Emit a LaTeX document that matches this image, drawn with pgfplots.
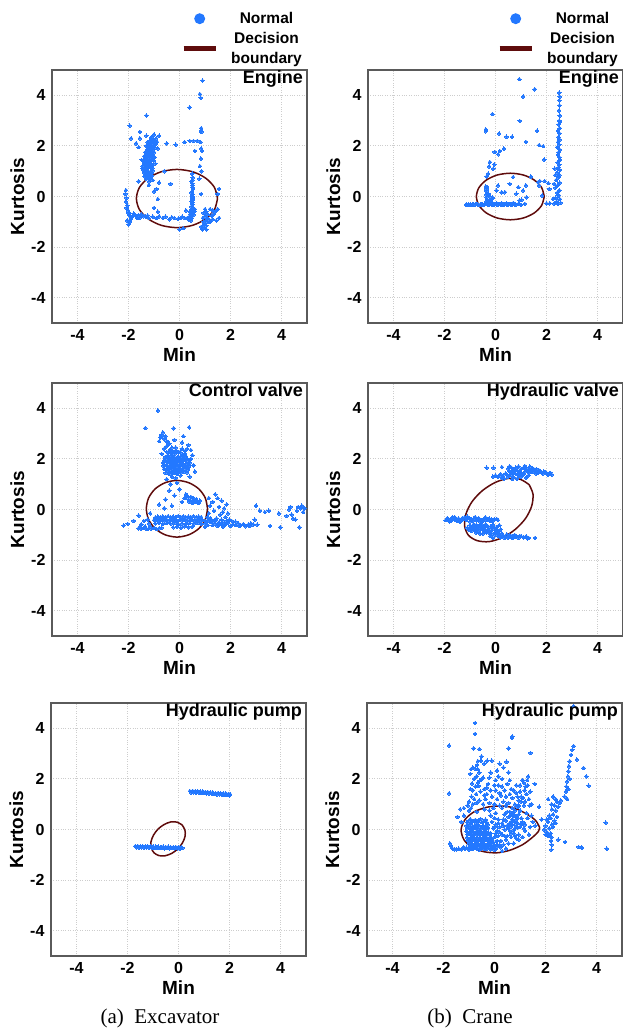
\documentclass[border=0pt]{standalone}
\usepackage{pgfplots}
\pgfplotsset{compat=1.18}
\usepackage{fontspec}
\setmainfont{Liberation Sans}
\newfontfamily\capfont{Liberation Serif}
\definecolor{ptblue}{RGB}{35,120,255}
\definecolor{bnd}{RGB}{95,12,12}
\definecolor{gridgray}{RGB}{205,205,205}
\definecolor{framegray}{RGB}{90,90,90}

\pgfplotsset{
  panel/.style={
    scale only axis, width=255pt, height=253pt,
    xmin=-5, xmax=5, ymin=-5, ymax=5,
    xtick={-4,-2,0,2,4}, ytick={-4,-2,0,2,4},
    xticklabels={-4,-2,0,2,4}, yticklabels={-4,-2,0,2,4},
    grid=major,
    major grid style={gridgray, dotted, line width=0.9pt},
    axis line style={framegray, line width=1.5pt},
    major tick length=0pt,
    ticklabel style={font=\bfseries\fontsize{16}{16}\selectfont},
    xticklabel style={yshift=-3pt},
    yticklabel style={xshift=-3pt},
    xlabel={Min}, ylabel={Kurtosis},
    label style={font=\bfseries\fontsize{19}{19}\selectfont},
    title style={at={(0.985,0.975)}, anchor=north east, inner sep=0pt,
      font=\bfseries\fontsize{18}{18}\selectfont},
  },
  pts/.style={only marks, mark=*, mark size=1.8pt, color=ptblue,
    mark options={line width=0pt}},
  bound/.style={bnd, line width=1.5pt, smooth, no markers},
  toplegend/.style={legend style={at={(1.0,1.004)}, anchor=south east,
    draw=none, fill=none, font=\bfseries\fontsize{15.5}{20}\selectfont,
    cells={align=center}, row sep=3pt,
    /tikz/every odd column/.append style={column sep=11pt}},
    legend cell align=center},
}

\begin{document}
\begin{tikzpicture}
\useasboundingbox (0pt,0pt) rectangle (622pt,-1034pt);

% (a) Excavator - Engine
\begin{axis}[panel, at={(52pt,-70pt)}, anchor=north west, title={Engine}, toplegend]
\addplot[pts, legend image code/.code={\path[draw=none,fill=none] (0pt,-1pt) rectangle (32pt,1pt); \fill[ptblue,draw=none] (16pt,0pt) circle (5.5pt);}] coordinates {
(-1.30,0.70) (-1.25,0.75) (-1.18,0.72) (-1.35,0.85) (-1.22,0.88) (-1.10,0.82) (-1.40,0.95) (-1.28,1.00) (-1.15,0.98) (-1.05,1.02)
(-1.38,1.10) (-1.25,1.12) (-1.12,1.15) (-1.45,1.20) (-1.32,1.25) (-1.20,1.28) (-1.08,1.22) (-1.40,1.35) (-1.28,1.40) (-1.15,1.38)
(-1.02,1.42) (-1.35,1.50) (-1.22,1.55) (-1.10,1.52) (-1.30,1.65) (-1.18,1.68) (-1.05,1.62) (-1.25,1.78) (-1.12,1.80) (-1.00,1.75)
(-1.22,1.90) (-1.10,1.95) (-0.98,1.92) (-1.18,2.05) (-1.05,2.10) (-1.15,2.20) (-1.02,2.25) (-0.95,2.05) (-1.25,2.15) (-1.10,2.35)
(-0.92,2.30) (-1.20,0.60) (-1.05,0.65) (-1.42,1.05) (-0.95,1.30) (-1.48,1.45) (-0.98,1.55) (-1.30,2.00) (-0.88,2.15) (-1.35,1.75)
(-1.38,0.80) (-1.26,0.82) (-1.14,0.80) (-1.32,0.92) (-1.20,0.95) (-1.08,0.93) (-1.44,1.12) (-1.30,1.15) (-1.18,1.18) (-1.06,1.12)
(-1.36,1.30) (-1.24,1.33) (-1.12,1.30) (-1.42,1.42) (-1.30,1.45) (-1.18,1.46) (-1.06,1.48) (-1.38,1.60) (-1.26,1.60) (-1.14,1.60)
(-1.02,1.58) (-1.32,1.72) (-1.20,1.73) (-1.08,1.70) (-1.28,1.85) (-1.16,1.85) (-1.04,1.85) (-1.22,1.98) (-1.10,2.00) (-1.00,2.00)
(-1.20,2.12) (-1.08,2.15) (-1.12,2.28) (-0.98,2.18)
(-1.55,2.30) (-1.30,2.40) (-1.00,2.45) (-0.80,2.40) (-1.30,3.20) (-1.55,2.55) (-1.95,2.80) (-1.90,2.30) (-1.70,2.10) (-1.60,1.95)
(-0.85,1.90) (-0.50,2.10) (-0.60,1.00) (-0.90,0.30) (-1.00,0.20) (-0.80,0.55) (-0.35,0.50) (-0.85,-0.10) (-1.20,0.45) (-1.60,0.60)
(-0.15,2.05) (0.20,2.15)
(0.50,0.90) (0.52,0.75) (0.48,0.60) (0.50,0.45) (0.53,0.30) (0.47,0.15) (0.50,0.00) (0.52,-0.10) (0.48,-0.20) (0.50,-0.30)
(0.46,-0.40) (0.53,-0.45) (0.45,-0.55) (0.50,-0.62) (0.42,-0.70) (0.55,-0.72) (0.38,-0.80) (0.48,-0.85) (0.35,-0.90) (0.58,-0.60)
(0.40,-0.60) (0.30,-0.85) (0.44,-0.95) (0.51,0.65) (0.49,0.20) (0.51,-0.05) (0.25,-0.55) (0.20,-0.85) (0.60,-0.50)
(0.50,0.52) (0.50,0.37) (0.50,0.07) (0.50,-0.15) (0.50,-0.25) (0.50,-0.50) (0.45,-0.75)
(1.00,-0.50) (1.05,-0.60) (0.95,-0.65) (1.10,-0.70) (1.00,-0.78) (0.92,-0.85) (1.08,-0.85) (1.02,-0.95) (0.95,-1.00) (1.10,-1.00)
(1.00,-1.08) (0.92,-1.15) (1.05,-1.15) (0.98,-1.25) (0.90,-1.30) (1.05,-1.30) (0.85,-1.20) (1.15,-0.90)
(1.20,-0.50) (1.30,-0.55) (1.40,-0.60) (1.50,-0.50) (1.55,-0.85) (1.45,-0.95) (1.30,-0.90) (1.55,0.30) (1.50,0.10) (1.25,-0.75)
(1.35,-0.70) (1.20,-1.00)
(0.90,4.58) (0.80,4.05) (0.83,3.90) (0.40,3.52) (0.85,2.70) (0.84,2.60) (0.86,2.55) (0.70,2.20) (0.55,2.20) (0.82,2.15)
(0.85,1.90) (0.88,1.80) (0.84,1.50) (0.80,1.20) (0.86,1.00) (0.78,0.70) (0.85,0.10) (0.60,1.80) (0.40,2.20)
(-1.95,-0.75) (-1.85,-0.80) (-1.78,-0.72) (-1.70,-0.78) (-1.62,-0.75) (-1.55,-0.82) (-1.48,-0.73) (-1.40,-0.78) (-1.32,-0.80) (-1.25,-0.75)
(-1.80,-0.68) (-1.65,-0.85) (-1.90,-0.88) (-1.50,-0.70) (-1.20,-0.85)
(-1.05,-0.80) (-0.90,-0.85) (-0.80,-0.78) (-0.65,-0.85) (-0.40,-0.90) (-0.30,-0.82) (-0.20,-0.85) (-0.05,-0.88) (0.05,-0.85) (0.10,-0.80)
(-0.55,-0.80) (0.00,-1.30) (0.15,-1.25)
(-2.10,0.25) (-2.12,0.10) (-2.08,-0.05) (-2.10,-0.20) (-2.05,-0.35) (-2.08,-0.45) (-2.02,-0.55) (-2.00,-0.65) (-2.05,-0.95) (-2.00,-1.10)
(-1.95,-1.00) (-1.00,-0.45) (-0.85,-0.60)
};
\addlegendentry{Normal}
\addplot[bound, legend image code/.code={\draw[bnd, line width=5pt] (0pt,0pt) -- (32pt,0pt);}] coordinates {
(1.49,-0.08) (1.37,0.36) (1.02,0.73) (0.51,0.98) (-0.10,1.07) (-0.71,0.98) (-1.22,0.73) (-1.57,0.36)
(-1.69,-0.08) (-1.57,-0.52) (-1.22,-0.89) (-0.71,-1.14) (-0.10,-1.23) (0.51,-1.14) (1.02,-0.89) (1.37,-0.52) (1.49,-0.08)
};
\addlegendentry{Decision\\boundary}
\end{axis}

% (b) Crane - Engine
\begin{axis}[panel, at={(368pt,-70pt)}, anchor=north west, title={Engine}, toplegend]
\addplot[pts, legend image code/.code={\path[draw=none,fill=none] (0pt,-1pt) rectangle (32pt,1pt); \fill[ptblue,draw=none] (16pt,0pt) circle (5.5pt);}] coordinates {
(-1.15,-0.32) (-1.10,-0.33) (-1.05,-0.31) (-1.00,-0.32) (-0.95,-0.33) (-0.90,-0.31) (-0.85,-0.32) (-0.80,-0.31) (-0.75,-0.30) (-0.70,-0.32)
(-0.65,-0.33) (-0.60,-0.32) (-0.55,-0.31) (-0.50,-0.31) (-0.45,-0.32) (-0.40,-0.30) (-0.38,-0.29) (-0.30,-0.31) (-0.25,-0.32) (-0.20,-0.30)
(-0.15,-0.31) (-0.10,-0.32) (-0.05,-0.31) (0.00,-0.30) (0.05,-0.32) (0.10,-0.31) (0.15,-0.30) (0.20,-0.32) (0.25,-0.31) (0.30,-0.31)
(0.35,-0.32) (0.40,-0.30) (0.45,-0.31) (0.50,-0.32) (0.55,-0.30) (0.60,-0.31) (0.65,-0.32) (0.70,-0.30) (0.75,-0.31) (0.80,-0.32)
(-0.25,-0.25) (-0.15,-0.22) (0.05,-0.26) (0.25,-0.27) (0.45,-0.28) (0.90,-0.28) (1.00,-0.33) (0.95,-0.15) (0.70,-0.25)
(-0.36,-0.25) (-0.35,-0.18) (-0.34,-0.10) (-0.36,-0.02) (-0.35,0.06) (-0.34,0.14) (-0.36,0.22) (-0.35,0.30) (-0.33,0.38) (-0.38,0.40)
(-0.30,-0.20) (-0.25,-0.15) (-0.20,-0.18) (-0.15,-0.10) (-0.10,-0.05) (-0.28,0.10) (-0.22,0.00)
(0.93,4.64) (1.54,4.24) (1.08,3.95) (-0.12,3.26) (0.95,2.99) (-0.38,2.65) (-0.38,2.58) (0.14,2.49) (0.43,2.36) (0.65,2.36)
(1.19,2.16) (1.63,2.60) (1.71,2.03) (1.87,1.99) (0.33,1.89) (0.17,1.80) (0.10,1.67) (-0.03,1.76) (-0.22,1.36) (-0.25,1.19)
(-0.09,1.10) (-0.05,1.27) (1.91,1.46) (-0.35,0.79) (-0.29,0.90) (0.10,0.44) (0.04,0.24) (0.24,0.17) (0.37,0.17) (0.69,0.77)
(0.89,0.37) (1.08,0.24) (1.39,0.79) (1.67,0.57) (1.74,0.61) (1.19,0.44) (1.22,-0.03) (1.15,-0.29) (0.56,0.50) (0.82,0.11)
(1.02,-0.13) (2.07,0.53) (2.11,0.30) (2.00,-0.27) (2.13,-0.27) (1.93,0.61) (1.70,0.44) (1.83,0.04)
(2.50,4.10) (2.52,3.95) (2.50,3.80) (2.51,3.60) (2.49,3.40) (2.52,3.20) (2.50,3.00) (2.48,2.85) (2.52,2.70) (2.45,2.60)
(2.50,2.50) (2.47,2.35) (2.52,2.25) (2.45,2.15) (2.50,2.05) (2.42,1.95) (2.52,1.85) (2.48,1.75) (2.45,1.65) (2.50,1.55)
(2.53,1.45) (2.44,1.35) (2.50,1.25) (2.47,1.15) (2.52,1.05) (2.42,0.95) (2.50,0.85) (2.46,0.75) (2.38,0.65) (2.52,0.55)
(2.44,0.45) (2.35,0.35) (2.50,0.25) (2.42,0.15) (2.48,0.05) (2.36,-0.05) (2.52,-0.10) (2.40,-0.20) (2.30,-0.28) (2.45,-0.30)
(2.55,-0.25) (2.25,-0.10) (2.32,1.10) (2.35,0.85) (2.30,0.50) (2.53,2.95)
};
\addlegendentry{Normal}
\addplot[bound, legend image code/.code={\draw[bnd, line width=5pt] (0pt,0pt) -- (32pt,0pt);}] coordinates {
(1.91,0.00) (1.81,0.35) (1.52,0.65) (1.09,0.85) (0.58,0.92) (0.07,0.85) (-0.36,0.65) (-0.65,0.35)
(-0.75,0.00) (-0.65,-0.35) (-0.36,-0.65) (0.07,-0.85) (0.58,-0.92) (1.09,-0.85) (1.52,-0.65) (1.81,-0.35) (1.91,0.00)
};
\addlegendentry{Decision\\boundary}
\end{axis}

% (a) Excavator - Control valve
\begin{axis}[panel, at={(52pt,-383pt)}, anchor=north west, title={Control valve}]
\addplot[pts] coordinates {
(-0.60,1.60) (-0.50,1.75) (-0.45,1.55) (-0.40,1.90) (-0.35,1.65) (-0.30,2.05) (-0.25,1.80) (-0.20,1.55) (-0.15,1.95) (-0.10,1.70)
(-0.05,2.10) (0.00,1.85) (0.05,1.60) (0.10,2.00) (0.15,1.75) (-0.55,2.00) (-0.45,2.15) (-0.35,2.25) (-0.20,2.20) (-0.10,2.30)
(0.05,2.25) (0.20,1.95) (0.25,1.70) (-0.40,1.40) (-0.25,1.45) (-0.10,1.40) (0.05,1.35) (-0.30,1.30) (-0.15,1.25) (0.00,1.50)
(0.20,2.20) (0.30,2.40) (0.40,1.85) (0.35,1.65) (0.45,2.00) (-0.65,1.85) (-0.70,2.20) (-0.60,2.40) (-0.50,2.50) (-0.40,2.60)
(-0.30,2.45) (-0.15,2.45) (-0.25,2.00) (-0.35,1.85) (-0.15,1.85) (-0.05,1.95) (0.10,1.80) (0.25,2.10) (-0.45,1.95) (-0.20,1.70)
(-0.55,1.45) (-0.43,1.47) (-0.31,1.50) (-0.19,1.44) (-0.07,1.48) (0.05,1.46) (0.17,1.50) (0.29,1.47)
(-0.62,1.72) (-0.50,1.62) (-0.38,1.58) (-0.26,1.62) (-0.14,1.60) (-0.02,1.62) (0.10,1.60) (0.22,1.62) (0.34,1.58)
(-0.58,1.76) (-0.46,1.72) (-0.34,1.76) (-0.22,1.70) (-0.10,1.76) (0.02,1.72) (0.14,1.78) (0.26,1.82) (0.38,1.74)
(-0.60,1.90) (-0.48,1.86) (-0.36,1.94) (-0.24,1.90) (-0.12,1.86) (0.00,1.98) (0.12,1.90) (0.24,1.96) (0.36,1.92)
(-0.56,2.08) (-0.44,2.04) (-0.32,2.12) (-0.20,2.06) (-0.08,2.02) (0.04,2.08) (0.16,2.12) (0.28,2.02)
(-0.50,2.28) (-0.38,2.36) (-0.26,2.30) (-0.14,2.34) (-0.02,2.28) (0.10,2.40) (0.22,2.32)
(-0.75,2.85) (-0.70,2.95) (-0.60,2.80) (-0.50,2.70) (-0.65,3.05) (-0.55,2.90) (-0.80,2.70) (-0.20,2.75) (0.10,2.65) (0.35,2.55)
(0.45,2.35) (0.55,1.75) (0.50,2.15) (0.60,1.50) (0.40,1.30) (-0.50,1.20) (-0.35,1.00) (-0.10,1.05)
(-0.85,3.91) (-1.34,3.22) (-0.23,3.21) (0.38,3.25) (-0.45,2.65) (0.15,2.90)
(-0.40,0.75) (-0.20,0.55) (-0.55,0.40) (0.00,0.80) (-0.60,0.05) (-0.80,0.20) (-0.30,0.15) (0.10,0.30)
(0.20,0.45) (0.30,0.55) (0.35,0.40) (0.45,0.50) (0.50,0.35) (0.55,0.45) (0.60,0.30) (0.65,0.40) (0.70,0.35) (0.75,0.25)
(0.40,0.30) (0.50,0.25) (0.25,0.60) (0.80,0.35)
(-0.95,-0.32) (-0.85,-0.28) (-0.75,-0.31) (-0.65,-0.27) (-0.55,-0.30) (-0.45,-0.26) (-0.35,-0.31) (-0.25,-0.28) (-0.15,-0.30) (-0.05,-0.25)
(0.05,-0.29) (0.15,-0.27) (0.25,-0.31) (0.35,-0.28) (0.45,-0.30) (0.55,-0.26) (0.65,-0.31) (0.75,-0.28) (0.85,-0.30)
(-1.00,-0.42) (-0.90,-0.40) (-0.80,-0.44) (-0.70,-0.41) (-0.60,-0.43) (-0.50,-0.40) (-0.40,-0.44) (-0.30,-0.42) (-0.20,-0.40) (-0.10,-0.45)
(0.00,-0.41) (0.10,-0.43) (0.20,-0.40) (0.30,-0.44) (0.40,-0.42) (0.50,-0.40) (0.60,-0.43) (0.70,-0.41) (0.80,-0.44) (0.90,-0.42) (1.00,-0.45)
(-0.95,-0.55) (-0.80,-0.53) (-0.65,-0.57) (-0.50,-0.54) (-0.35,-0.56) (-0.20,-0.53) (-0.05,-0.58) (0.10,-0.55) (0.25,-0.57) (0.40,-0.54)
(0.55,-0.56) (0.70,-0.53) (0.85,-0.57) (1.00,-0.55)
(-0.10,-0.68) (0.05,-0.72) (0.20,-0.66) (0.35,-0.70) (-0.25,-0.70) (0.50,-0.68)
(-1.60,-0.74) (-1.50,-0.76) (-1.40,-0.73) (-1.30,-0.77) (-1.20,-0.74) (-1.10,-0.76) (-1.00,-0.73) (-0.90,-0.77) (-0.80,-0.74) (-0.70,-0.72)
(-1.55,-0.68) (-1.35,-0.67) (-1.15,-0.66) (-1.40,-0.45) (-1.25,-0.40) (-1.20,-0.55) (-1.50,-0.58)
(-2.19,-0.63) (-2.03,-0.57) (-1.60,-0.24) (-1.80,-0.45) (-1.15,-0.15)
(1.10,-0.30) (1.15,-0.15) (1.20,0.15) (1.30,0.30) (1.35,-0.05) (1.40,0.60) (1.50,0.45) (1.55,0.10) (1.60,-0.20) (1.65,0.35)
(1.70,-0.10) (1.75,0.05) (1.80,-0.30) (1.85,0.20) (1.90,-0.15) (1.95,-0.40) (1.20,-0.50) (1.30,-0.62) (1.40,-0.55) (1.50,-0.65)
(1.60,-0.58) (1.70,-0.68) (1.80,-0.60) (1.90,-0.52) (2.00,-0.65) (2.10,-0.58) (2.20,-0.62) (2.30,-0.55) (2.40,-0.63) (2.50,-0.58)
(2.60,-0.66) (2.70,-0.60) (2.80,-0.55) (1.25,-0.40) (1.45,-0.35) (1.65,-0.40) (1.85,-0.45) (2.05,-0.45) (2.20,-0.48) (1.10,-0.62)
(1.00,-0.68) (1.15,0.45)
(1.10,-0.45) (1.20,-0.35) (1.30,-0.48) (1.40,-0.42) (1.55,-0.50) (1.70,-0.52) (1.75,-0.62) (2.35,-0.65) (2.55,-0.62) (2.75,-0.65) (2.90,-0.60)
(3.00,0.15) (3.15,-0.05) (3.35,-0.10) (3.50,-0.05) (3.55,-0.65) (3.95,-0.70) (3.90,-0.15) (4.20,-0.25) (4.30,0.00) (4.40,-0.20)
(4.45,-0.35) (4.55,-0.40) (4.60,-0.05) (4.65,0.10) (4.75,0.05) (4.80,0.15) (4.85,-0.10) (4.90,0.05) (4.70,-0.70) (3.05,-0.60)
(2.95,-0.40) (4.35,0.10)
};
\addplot[bound] coordinates {
(1.10,0.03) (1.01,0.46) (0.75,0.82) (0.36,1.06) (-0.10,1.15) (-0.56,1.06) (-0.95,0.82) (-1.21,0.46)
(-1.30,0.03) (-1.21,-0.40) (-0.95,-0.76) (-0.56,-1.00) (-0.10,-1.09) (0.36,-1.00) (0.75,-0.76) (1.01,-0.40) (1.10,0.03)
};
\end{axis}

% (b) Crane - Hydraulic valve
\begin{axis}[panel, at={(368pt,-383pt)}, anchor=north west, title={Hydraulic valve}]
\addplot[pts] coordinates {
(0.50,1.62) (0.60,1.68) (0.70,1.58) (0.80,1.65) (0.90,1.70) (1.00,1.60) (1.10,1.66) (1.20,1.58) (1.30,1.64) (1.40,1.55)
(1.50,1.60) (1.60,1.52) (1.70,1.56) (1.80,1.48) (1.90,1.50) (2.00,1.45) (2.10,1.42) (2.20,1.38) (1.25,1.52) (1.45,1.48)
(1.65,1.45) (1.85,1.42) (2.05,1.38) (0.95,1.52) (0.75,1.50) (1.15,1.72) (1.35,1.70) (0.65,1.55) (0.55,1.70)
(0.55,1.50) (0.70,1.42) (0.85,1.55) (1.00,1.45) (1.15,1.50) (1.30,1.45) (1.45,1.62) (1.60,1.60) (1.75,1.50) (1.95,1.46)
(2.15,1.45) (0.45,1.38) (0.95,1.42) (1.60,1.42) (0.15,1.32) (0.25,1.25)
(0.00,1.35) (0.10,1.28) (0.20,1.40) (0.30,1.32) (0.40,1.42) (0.50,1.30) (0.60,1.38) (0.70,1.28) (0.80,1.40) (0.90,1.34)
(1.00,1.30) (1.10,1.38) (1.20,1.26) (1.30,1.35) (0.35,1.22) (0.65,1.20) (0.85,1.22) (-0.10,1.30)
(-0.35,1.65) (-0.08,1.65) (0.25,1.68)
(-1.95,-0.42) (-1.85,-0.38) (-1.75,-0.44) (-1.65,-0.36) (-1.55,-0.41) (-1.45,-0.35) (-1.35,-0.43) (-1.25,-0.37) (-1.15,-0.42) (-1.05,-0.34)
(-0.95,-0.40) (-0.85,-0.36) (-0.75,-0.43) (-0.65,-0.35) (-0.55,-0.41) (-0.45,-0.37) (-0.35,-0.42) (-0.25,-0.36) (-0.15,-0.40) (-0.05,-0.38)
(0.05,-0.37) (-1.80,-0.47) (-1.60,-0.30) (-1.40,-0.48) (-1.20,-0.30) (-1.00,-0.47) (-0.80,-0.30) (-0.60,-0.48) (-0.40,-0.31) (-0.20,-0.46)
(-1.70,-0.32) (-1.10,-0.28)
(-1.90,-0.35) (-1.50,-0.45) (-1.30,-0.34) (-0.90,-0.45) (-0.70,-0.38) (-0.50,-0.46) (-0.30,-0.38) (-0.10,-0.44) (0.10,-0.42) (-1.00,-0.38)
(-1.60,-0.40)
(-1.10,-0.72) (-1.00,-0.62) (-0.95,-0.85) (-0.85,-0.58) (-0.80,-0.75) (-0.75,-0.92) (-0.70,-0.65) (-0.60,-0.80) (-0.55,-0.58) (-0.50,-0.95)
(-0.45,-0.70) (-0.40,-0.85) (-0.35,-0.62) (-0.30,-0.78) (-0.25,-0.92) (-0.20,-0.68) (-0.15,-0.82) (-0.10,-0.60) (-0.05,-0.75) (0.00,-0.90)
(0.05,-0.70) (0.10,-0.85) (0.15,-0.62) (0.20,-0.78) (-0.90,-0.68) (-0.65,-0.72) (-0.40,-0.60) (-0.15,-0.95) (-1.05,-0.80) (-0.60,-0.95)
(-1.00,-0.72) (-0.85,-0.80) (-0.70,-0.85) (-0.55,-0.70) (-0.45,-0.80) (-0.30,-0.66) (-0.25,-0.82) (-0.10,-0.70) (0.05,-0.80) (-0.75,-0.60)
(-0.35,-0.90) (0.15,-0.95) (0.35,-1.12) (0.65,-1.12) (0.95,-1.04) (1.25,-1.14) (0.55,-1.02) (0.75,-1.00)
(0.00,-1.00) (0.10,-1.05) (0.20,-1.10) (0.30,-1.02) (0.40,-1.08) (0.50,-1.12) (0.60,-1.04) (0.70,-1.10) (0.80,-1.06) (0.90,-1.12)
(1.00,-1.05) (1.10,-1.10) (1.20,-1.06) (1.30,-1.12) (0.25,-0.95) (0.45,-0.98) (1.55,-1.12) (-0.20,-1.05) (-0.10,-1.12)
};
\addplot[bound] coordinates {
(1.32,0.98) (0.98,1.19) (0.51,1.23) (-0.01,1.07) (-0.51,0.75) (-0.92,0.31) (-1.16,-0.18) (-1.21,-0.65)
(-1.06,-1.02) (-0.72,-1.23) (-0.25,-1.27) (0.27,-1.11) (0.77,-0.79) (1.18,-0.35) (1.42,0.14) (1.47,0.61) (1.32,0.98)
};
\end{axis}

% (a) Excavator - Hydraulic pump
\begin{axis}[panel, at={(51pt,-703pt)}, anchor=north west, title={Hydraulic pump}]
\addplot[pts] coordinates {
(0.45,1.52) (0.55,1.53) (0.65,1.51) (0.75,1.52) (0.85,1.50) (0.95,1.51) (1.05,1.49) (1.15,1.48) (1.25,1.47) (1.35,1.46)
(1.45,1.44) (1.55,1.45) (1.65,1.43) (1.75,1.42) (1.85,1.43) (1.95,1.41) (2.02,1.40)
(0.50,1.46) (0.60,1.47) (0.70,1.45) (0.80,1.46) (0.90,1.44) (1.00,1.45) (1.10,1.43) (1.20,1.42) (1.30,1.41) (1.40,1.40)
(1.50,1.38) (1.60,1.39) (1.70,1.37) (1.80,1.36) (1.90,1.37) (2.00,1.35)
(-1.70,-0.66) (-1.60,-0.65) (-1.50,-0.67) (-1.40,-0.66) (-1.30,-0.67) (-1.20,-0.66) (-1.10,-0.68) (-1.00,-0.67) (-0.90,-0.68) (-0.80,-0.67)
(-0.70,-0.69) (-0.60,-0.68) (-0.50,-0.69) (-0.40,-0.68) (-0.30,-0.70) (-0.20,-0.69) (-0.10,-0.70) (0.00,-0.69) (0.10,-0.71)
(-1.65,-0.70) (-1.55,-0.71) (-1.45,-0.70) (-1.35,-0.72) (-1.25,-0.71) (-1.15,-0.72) (-1.05,-0.71) (-0.95,-0.73) (-0.85,-0.72) (-0.75,-0.73)
(-0.65,-0.72) (-0.55,-0.74) (-0.45,-0.73) (-0.35,-0.74) (-0.25,-0.73) (-0.15,-0.75) (-0.05,-0.74) (0.05,-0.75) (0.15,-0.73)
};
\addplot[bound] coordinates {
(0.14,0.18) (-0.05,0.29) (-0.30,0.30) (-0.56,0.20) (-0.80,0.02) (-0.98,-0.22) (-1.08,-0.49) (-1.07,-0.73)
(-0.96,-0.92) (-0.77,-1.03) (-0.53,-1.04) (-0.26,-0.94) (-0.02,-0.76) (0.16,-0.52) (0.26,-0.26) (0.25,-0.01) (0.14,0.18)
};
\end{axis}

% (b) Crane - Hydraulic pump
\begin{axis}[panel, at={(367pt,-703pt)}, anchor=north west, title={Hydraulic pump}]
\addplot[pts] coordinates {
(-0.95,0.41) (-0.75,0.38) (-0.55,0.42) (-0.35,0.39)
(-1.05,0.27) (-0.88,0.30) (-0.70,0.26) (-0.50,0.29) (-0.30,0.27)
(-1.10,0.15) (-0.95,0.18) (-0.80,0.14) (-0.62,0.17) (-0.45,0.15) (-0.28,0.18)
(-1.08,0.05) (-0.92,0.02) (-0.78,0.06) (-0.65,0.03) (-0.52,0.05) (-0.38,0.02) (-0.25,0.06)
(-1.10,-0.07) (-0.98,-0.10) (-0.85,-0.06) (-0.72,-0.09) (-0.58,-0.07) (-0.45,-0.10) (-0.32,-0.08)
(-1.05,-0.19) (-0.92,-0.22) (-0.80,-0.18) (-0.68,-0.21) (-0.55,-0.19) (-0.42,-0.22) (-0.30,-0.18) (-0.18,-0.21)
(-1.08,-0.31) (-0.95,-0.34) (-0.82,-0.30) (-0.70,-0.33) (-0.58,-0.31) (-0.45,-0.34) (-0.33,-0.30) (-0.20,-0.33)
(-1.05,-0.43) (-0.92,-0.46) (-0.80,-0.42) (-0.68,-0.45) (-0.55,-0.43) (-0.42,-0.46) (-0.30,-0.42) (-0.18,-0.45)
(-1.00,-0.55) (-0.88,-0.58) (-0.75,-0.54) (-0.62,-0.57) (-0.50,-0.55) (-0.38,-0.58) (-0.25,-0.54) (-0.12,-0.57)
(-0.95,-0.67) (-0.82,-0.70) (-0.70,-0.66) (-0.58,-0.69) (-0.45,-0.67) (-0.32,-0.70) (-0.20,-0.66) (-0.05,-0.69) (0.10,-0.67)
(-1.15,-0.77) (-1.00,-0.79) (-0.85,-0.76) (-0.60,-0.79) (-0.40,-0.77) (-0.15,-0.78) (0.05,-0.76)
(-1.02,0.34) (-0.82,0.34) (-0.62,0.36) (-0.42,0.33)
(-1.02,0.10) (-0.86,0.09) (-0.70,0.10) (-0.54,0.10) (-0.34,0.11)
(-1.04,-0.14) (-0.90,-0.14) (-0.76,-0.13) (-0.62,-0.14) (-0.48,-0.15) (-0.36,-0.14) (-0.24,-0.12)
(-1.02,-0.38) (-0.88,-0.38) (-0.76,-0.37) (-0.62,-0.38) (-0.50,-0.38) (-0.38,-0.39) (-0.26,-0.37) (-0.12,-0.40)
(-0.95,-0.62) (-0.82,-0.62) (-0.68,-0.61) (-0.55,-0.62) (-0.42,-0.63) (-0.28,-0.61) (-0.14,-0.63) (0.00,-0.62)
(-1.10,-0.72) (-0.90,-0.74) (-0.70,-0.76) (-0.50,-0.74) (-0.30,-0.76) (-0.10,-0.74)
(-0.15,0.55) (0.00,0.45) (-0.10,0.30) (0.05,0.20) (0.15,0.40) (-0.05,0.05) (0.10,-0.05) (0.20,0.10) (-0.15,-0.15) (0.00,-0.30)
(0.15,-0.25) (0.25,-0.45) (-0.05,-0.50) (0.10,-0.60) (0.25,-0.70) (0.30,0.25) (0.05,0.65) (-0.20,0.75) (0.20,-0.10)
(0.05,-0.15) (0.15,0.25) (0.00,0.10) (-0.10,-0.35) (0.10,-0.45) (0.30,-0.20) (0.35,0.40) (0.50,0.70) (0.60,0.55) (0.70,0.65)
(0.80,0.55) (0.90,0.45) (0.55,0.05) (0.65,0.12) (0.75,-0.02) (0.90,0.08) (1.05,0.20) (1.15,0.05) (0.65,-0.15) (0.80,-0.25)
(0.40,-0.25) (0.35,0.15) (0.95,-0.40) (1.10,-0.30) (0.20,-0.60) (0.45,-0.75) (0.00,-0.80) (0.30,-0.85)
(0.40,0.00) (0.50,0.15) (0.60,-0.05) (0.70,0.20) (0.80,0.05) (0.90,0.25) (1.00,0.10) (0.45,0.35) (0.55,0.50) (0.65,0.30)
(0.75,0.55) (0.85,0.40) (0.95,0.60) (1.05,0.45) (0.60,0.70) (0.70,0.85) (0.80,0.75) (0.90,0.90) (0.50,-0.25) (0.65,-0.30)
(0.75,-0.15) (0.85,-0.35) (0.95,-0.20) (0.40,0.60) (1.10,0.30) (1.20,0.20) (1.30,0.45) (1.40,0.10) (1.50,0.30) (1.20,-0.05)
(1.35,-0.20) (0.55,-0.55) (0.75,-0.55) (0.35,-0.60) (0.45,-0.40) (0.30,0.85) (0.70,0.40) (0.85,0.15) (0.60,0.25) (0.78,0.32)
(1.25,0.65) (1.45,0.55) (1.60,0.15) (1.00,0.75)
(-0.85,1.00) (-0.80,1.20) (-0.72,1.40) (-0.85,1.55) (-0.75,1.70) (-0.65,1.85) (-0.80,2.00) (-0.70,2.10) (-0.60,2.25) (-0.75,2.40)
(-0.68,2.55) (-0.90,1.30) (-1.00,1.10) (-1.05,0.95) (-0.95,2.20) (-0.55,1.50) (-0.60,1.15) (-0.92,0.85) (-1.20,0.85)
(-0.45,1.00) (-0.35,1.20) (-0.40,1.60) (-0.30,1.40) (-0.20,1.05) (-0.25,1.80) (-0.10,1.30) (0.00,1.00) (0.05,1.55) (0.10,1.20)
(0.15,1.75) (0.20,0.95) (0.25,1.35) (0.30,2.00) (0.35,1.10) (0.40,1.55) (-0.45,2.05) (-0.15,2.25) (0.10,2.33) (0.55,2.26)
(0.50,1.80) (-0.05,0.85) (0.45,0.95)
(-0.95,1.60) (-0.62,1.72) (-0.88,1.82) (-0.50,2.00) (-0.30,1.65) (-0.15,1.55) (0.00,1.75) (0.20,1.45) (0.30,1.70) (0.45,1.30)
(0.55,1.05) (0.60,1.40) (0.75,1.55) (0.90,1.30) (1.00,1.50) (1.05,1.10) (0.95,0.95) (-0.20,2.05) (0.05,1.95) (-0.55,1.95)
(-0.85,2.45) (-0.65,2.70) (0.35,2.45) (0.15,2.10) (-0.40,1.35) (-0.70,1.05) (0.60,1.95) (0.85,1.75) (1.10,1.95) (1.30,1.75)
(1.38,0.95) (-1.00,0.75) (-0.70,0.70) (-0.40,0.80)
(1.15,0.95) (1.20,1.10) (1.12,1.25) (1.25,1.40) (1.18,1.55) (1.22,1.70) (1.15,1.85) (1.28,1.95) (1.05,1.30) (0.95,1.15)
(0.85,1.45) (0.70,1.25) (0.65,1.60) (0.80,1.00) (1.35,1.20) (1.40,1.50) (1.32,2.10) (1.58,1.80) (1.45,1.00) (1.00,1.75)
(-0.76,4.21) (-0.76,3.78) (-0.82,3.21) (-0.59,3.18) (-1.78,3.32) (0.55,3.21) (1.41,3.03) (0.47,2.68) (-0.51,2.89) (-0.53,2.72)
(-0.29,2.72) (-0.11,2.72) (-0.92,2.39) (-0.66,2.39) (3.10,4.88) (-0.40,2.60) (0.20,2.60) (0.68,3.62) (0.70,3.68)
(-1.78,1.43) (-1.75,-0.55) (-1.70,-0.65) (-1.65,-0.75) (-1.58,-0.78) (-1.50,-0.78) (-1.40,-0.76) (-1.30,-0.78) (-1.25,-0.74) (-1.20,-0.70)
(-1.35,0.80) (-1.45,0.50) (-1.30,0.30) (-1.20,0.55)
(1.95,0.00) (2.00,0.15) (2.05,-0.10) (2.10,0.30) (2.15,0.05) (2.20,0.45) (2.25,0.20) (2.30,0.60) (2.35,0.35) (2.40,0.75)
(2.45,0.50) (2.50,0.90) (2.55,1.05) (2.60,1.15) (2.10,-0.25) (2.20,-0.15) (2.30,0.10) (2.40,0.25) (2.15,0.55) (2.25,0.80)
(2.05,0.40) (2.35,0.95) (2.00,-0.20) (2.45,1.10) (2.30,1.30) (2.40,1.20) (2.10,1.20) (2.24,1.00)
(2.23,-0.30) (2.22,-0.45) (2.24,-0.60) (2.23,-0.80)
(2.75,1.30) (2.80,1.50) (2.82,1.70) (2.85,1.90) (2.88,2.10) (2.90,2.30) (2.92,2.50) (2.95,2.70) (3.00,2.95) (3.05,3.15)
(3.10,3.30) (2.90,1.60) (2.85,1.20) (2.95,2.00)
(3.23,2.77) (3.49,2.43) (3.60,2.10) (3.69,1.73) (2.77,-0.49) (3.30,-0.69) (3.43,-0.72) (4.40,-0.76) (4.36,0.27) (2.50,-0.40)
(1.75,0.90) (1.85,0.40)
};
\addplot[bound] coordinates {
(1.77,0.08) (1.60,0.37) (1.20,0.65) (0.70,0.87) (0.20,0.93) (-0.30,0.88) (-0.80,0.70) (-1.15,0.40)
(-1.31,0.00) (-1.20,-0.40) (-0.90,-0.70) (-0.40,-0.88) (0.10,-0.92) (0.60,-0.82) (1.10,-0.60) (1.50,-0.30) (1.72,-0.08) (1.77,0.08)
};
\end{axis}

\node[font=\capfont\fontsize{21}{21}\selectfont] at (160pt,-1018pt) {(a)\ \ Excavator};
\node[font=\capfont\fontsize{21}{21}\selectfont] at (470pt,-1018pt) {(b)\ \ Crane};
\end{tikzpicture}
\end{document}
